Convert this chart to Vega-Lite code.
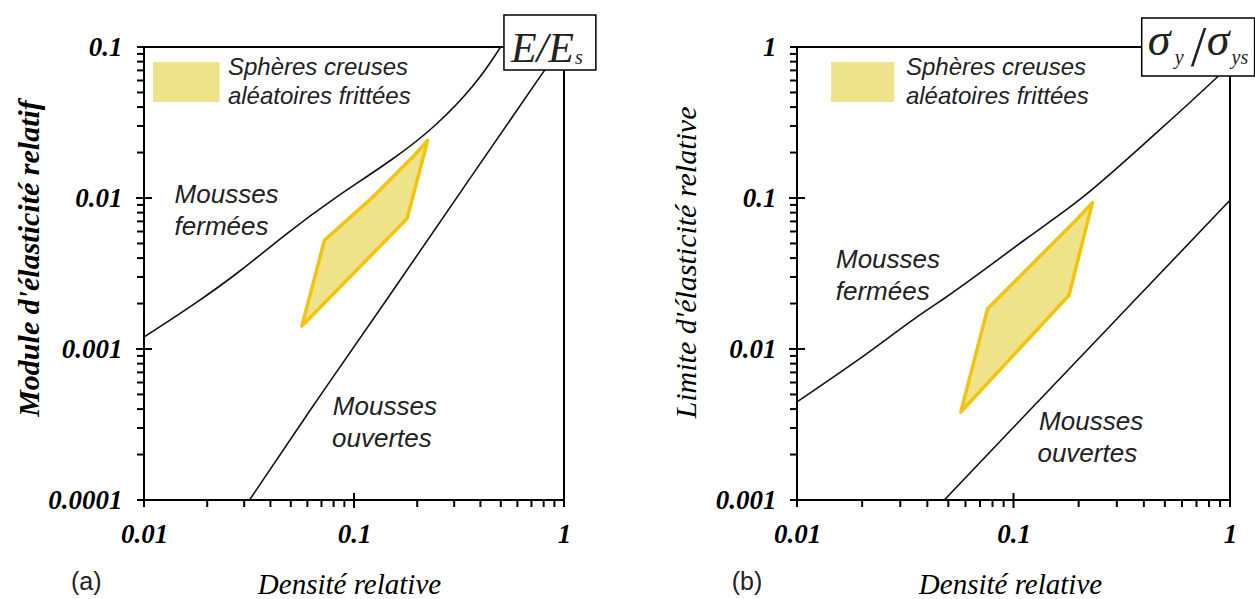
{
  "$schema": "https://vega.github.io/schema/vega-lite/v6.json",
  "background": "white",
  "padding": {"left": 13, "top": 13, "right": 0, "bottom": 0},
  "config": {"view": {"stroke": "#000", "strokeWidth": 2}},
  "spacing": 233,
  "bounds": "flush",
  "datasets": {
    "L_lines": [
      {"curve": "fermees", "i": 0, "x": 0.01, "y": 0.0012},
      {"curve": "fermees", "i": 1, "x": 0.01807, "y": 0.00205},
      {"curve": "fermees", "i": 2, "x": 0.02904, "y": 0.0033},
      {"curve": "fermees", "i": 3, "x": 0.0474, "y": 0.0058},
      {"curve": "fermees", "i": 4, "x": 0.0778, "y": 0.0097},
      {"curve": "fermees", "i": 5, "x": 0.1585, "y": 0.0185},
      {"curve": "fermees", "i": 6, "x": 0.245, "y": 0.0298},
      {"curve": "fermees", "i": 7, "x": 0.378, "y": 0.0558},
      {"curve": "fermees", "i": 8, "x": 0.494, "y": 0.0975},
      {"curve": "fermees", "i": 9, "x": 0.52, "y": 0.11},
      {"curve": "ouvertes", "i": 0, "x": 0.0318, "y": 0.0001},
      {"curve": "ouvertes", "i": 1, "x": 0.0672, "y": 0.00047},
      {"curve": "ouvertes", "i": 2, "x": 0.1345, "y": 0.00186},
      {"curve": "ouvertes", "i": 3, "x": 0.335, "y": 0.0119},
      {"curve": "ouvertes", "i": 4, "x": 0.836, "y": 0.0757},
      {"curve": "ouvertes", "i": 5, "x": 1.0, "y": 0.105}
    ],
    "L_poly": [
      {"i": 0, "x": 0.0565, "y": 0.00142},
      {"i": 1, "x": 0.0723, "y": 0.00525},
      {"i": 2, "x": 0.1206, "y": 0.0099},
      {"i": 3, "x": 0.1938, "y": 0.0192},
      {"i": 4, "x": 0.2244, "y": 0.0241},
      {"i": 5, "x": 0.1789, "y": 0.0073}
    ],
    "L_swatch": [{"x": 0.01104, "x2": 0.0229, "y": 0.0796, "y2": 0.0432}],
    "L_text": [
      {"kind": "legend", "text": "Sphères creuses", "x": 0.0251, "y": 0.0653},
      {"kind": "legend", "text": "aléatoires frittées", "x": 0.0251, "y": 0.0421},
      {"kind": "region", "text": "Mousses", "x": 0.01398, "y": 0.00931},
      {"kind": "region", "text": "fermées", "x": 0.01398, "y": 0.00566},
      {"kind": "region", "text": "Mousses", "x": 0.0793, "y": 0.000367},
      {"kind": "region", "text": "ouvertes", "x": 0.0786, "y": 0.000224},
      {"kind": "tag", "text": "(a)", "x": 0.00531, "y": 0.0000286}
    ],
    "L_box": [{"x": 0.5177, "x2": 1.4183, "y": 0.163, "y2": 0.0704}],
    "L_boxtext": [
      {"kind": "main", "text": "E/E", "x": 0.559, "y": 0.0796},
      {"kind": "sub", "text": "s", "x": 1.127, "y": 0.0772}
    ],
    "LX_ticks": [
      {"v": 0.01, "base": 0.0001, "kind": "out"}, {"v": 0.02, "base": 0.0001, "kind": "out"}, {"v": 0.03, "base": 0.0001, "kind": "out"},
      {"v": 0.04, "base": 0.0001, "kind": "out"}, {"v": 0.05, "base": 0.0001, "kind": "out"}, {"v": 0.06, "base": 0.0001, "kind": "out"},
      {"v": 0.07, "base": 0.0001, "kind": "out"}, {"v": 0.08, "base": 0.0001, "kind": "out"}, {"v": 0.09, "base": 0.0001, "kind": "out"},
      {"v": 0.1, "base": 0.0001, "kind": "cross"}, {"v": 0.2, "base": 0.0001, "kind": "out"}, {"v": 0.3, "base": 0.0001, "kind": "out"},
      {"v": 0.4, "base": 0.0001, "kind": "out"}, {"v": 0.5, "base": 0.0001, "kind": "out"}, {"v": 0.6, "base": 0.0001, "kind": "out"},
      {"v": 0.7, "base": 0.0001, "kind": "out"}, {"v": 0.8, "base": 0.0001, "kind": "out"}, {"v": 0.9, "base": 0.0001, "kind": "out"},
      {"v": 1, "base": 0.0001, "kind": "out"}
    ],
    "RX_ticks": [
      {"v": 0.01, "base": 0.001, "kind": "out"}, {"v": 0.02, "base": 0.001, "kind": "out"}, {"v": 0.03, "base": 0.001, "kind": "out"},
      {"v": 0.04, "base": 0.001, "kind": "out"}, {"v": 0.05, "base": 0.001, "kind": "out"}, {"v": 0.06, "base": 0.001, "kind": "out"},
      {"v": 0.07, "base": 0.001, "kind": "out"}, {"v": 0.08, "base": 0.001, "kind": "out"}, {"v": 0.09, "base": 0.001, "kind": "out"},
      {"v": 0.1, "base": 0.001, "kind": "cross"}, {"v": 0.2, "base": 0.001, "kind": "out"}, {"v": 0.3, "base": 0.001, "kind": "out"},
      {"v": 0.4, "base": 0.001, "kind": "out"}, {"v": 0.5, "base": 0.001, "kind": "out"}, {"v": 0.6, "base": 0.001, "kind": "out"},
      {"v": 0.7, "base": 0.001, "kind": "out"}, {"v": 0.8, "base": 0.001, "kind": "out"}, {"v": 0.9, "base": 0.001, "kind": "out"},
      {"v": 1, "base": 0.001, "kind": "out"}
    ],
    "LY_ticks": [
      {"v": 0.0001, "base": 0.01, "kind": "out"}, {"v": 0.0002, "base": 0.01, "kind": "out"}, {"v": 0.0003, "base": 0.01, "kind": "out"},
      {"v": 0.0004, "base": 0.01, "kind": "out"}, {"v": 0.0005, "base": 0.01, "kind": "out"}, {"v": 0.0006, "base": 0.01, "kind": "out"},
      {"v": 0.0007, "base": 0.01, "kind": "out"}, {"v": 0.0008, "base": 0.01, "kind": "out"}, {"v": 0.0009, "base": 0.01, "kind": "out"},
      {"v": 0.001, "base": 0.01, "kind": "cross"}, {"v": 0.002, "base": 0.01, "kind": "out"}, {"v": 0.003, "base": 0.01, "kind": "out"},
      {"v": 0.004, "base": 0.01, "kind": "out"}, {"v": 0.005, "base": 0.01, "kind": "out"}, {"v": 0.006, "base": 0.01, "kind": "out"},
      {"v": 0.007, "base": 0.01, "kind": "out"}, {"v": 0.008, "base": 0.01, "kind": "out"}, {"v": 0.009, "base": 0.01, "kind": "out"},
      {"v": 0.01, "base": 0.01, "kind": "cross"}, {"v": 0.02, "base": 0.01, "kind": "out"}, {"v": 0.03, "base": 0.01, "kind": "out"},
      {"v": 0.04, "base": 0.01, "kind": "out"}, {"v": 0.05, "base": 0.01, "kind": "out"}, {"v": 0.06, "base": 0.01, "kind": "out"},
      {"v": 0.07, "base": 0.01, "kind": "out"}, {"v": 0.08, "base": 0.01, "kind": "out"}, {"v": 0.09, "base": 0.01, "kind": "out"},
      {"v": 0.1, "base": 0.01, "kind": "out"}
    ],
    "RY_ticks": [
      {"v": 0.001, "base": 0.01, "kind": "out"}, {"v": 0.002, "base": 0.01, "kind": "out"}, {"v": 0.003, "base": 0.01, "kind": "out"},
      {"v": 0.004, "base": 0.01, "kind": "out"}, {"v": 0.005, "base": 0.01, "kind": "out"}, {"v": 0.006, "base": 0.01, "kind": "out"},
      {"v": 0.007, "base": 0.01, "kind": "out"}, {"v": 0.008, "base": 0.01, "kind": "out"}, {"v": 0.009, "base": 0.01, "kind": "out"},
      {"v": 0.01, "base": 0.01, "kind": "cross"}, {"v": 0.02, "base": 0.01, "kind": "out"}, {"v": 0.03, "base": 0.01, "kind": "out"},
      {"v": 0.04, "base": 0.01, "kind": "out"}, {"v": 0.05, "base": 0.01, "kind": "out"}, {"v": 0.06, "base": 0.01, "kind": "out"},
      {"v": 0.07, "base": 0.01, "kind": "out"}, {"v": 0.08, "base": 0.01, "kind": "out"}, {"v": 0.09, "base": 0.01, "kind": "out"},
      {"v": 0.1, "base": 0.01, "kind": "cross"}, {"v": 0.2, "base": 0.01, "kind": "out"}, {"v": 0.3, "base": 0.01, "kind": "out"},
      {"v": 0.4, "base": 0.01, "kind": "out"}, {"v": 0.5, "base": 0.01, "kind": "out"}, {"v": 0.6, "base": 0.01, "kind": "out"},
      {"v": 0.7, "base": 0.01, "kind": "out"}, {"v": 0.8, "base": 0.01, "kind": "out"}, {"v": 0.9, "base": 0.01, "kind": "out"},
      {"v": 1, "base": 0.01, "kind": "out"}
    ],
    "R_lines": [
      {"curve": "fermees", "i": 0, "x": 0.01, "y": 0.00446},
      {"curve": "fermees", "i": 1, "x": 0.019, "y": 0.0084},
      {"curve": "fermees", "i": 2, "x": 0.0387, "y": 0.0176},
      {"curve": "fermees", "i": 3, "x": 0.0478, "y": 0.0216},
      {"curve": "fermees", "i": 4, "x": 0.112, "y": 0.0525},
      {"curve": "fermees", "i": 5, "x": 0.2046, "y": 0.099},
      {"curve": "fermees", "i": 6, "x": 0.462, "y": 0.274},
      {"curve": "fermees", "i": 7, "x": 0.874, "y": 0.633},
      {"curve": "fermees", "i": 8, "x": 1.0, "y": 0.76},
      {"curve": "ouvertes", "i": 0, "x": 0.0479, "y": 0.001},
      {"curve": "ouvertes", "i": 1, "x": 0.1, "y": 0.00303},
      {"curve": "ouvertes", "i": 2, "x": 0.316, "y": 0.0171},
      {"curve": "ouvertes", "i": 3, "x": 1.0, "y": 0.0966}
    ],
    "R_poly": [
      {"i": 0, "x": 0.0571, "y": 0.00383},
      {"i": 1, "x": 0.0759, "y": 0.0185},
      {"i": 2, "x": 0.19, "y": 0.069},
      {"i": 3, "x": 0.2315, "y": 0.0931},
      {"i": 4, "x": 0.1805, "y": 0.0227}
    ],
    "R_swatch": [{"x": 0.01436, "x2": 0.0281, "y": 0.796, "y2": 0.432}],
    "R_text": [
      {"kind": "legend", "text": "Sphères creuses", "x": 0.03185, "y": 0.6495},
      {"kind": "legend", "text": "aléatoires frittées", "x": 0.03185, "y": 0.421},
      {"kind": "region", "text": "Mousses", "x": 0.01514, "y": 0.0344},
      {"kind": "region", "text": "fermées", "x": 0.0151, "y": 0.021},
      {"kind": "region", "text": "Mousses", "x": 0.1313, "y": 0.00291},
      {"kind": "region", "text": "ouvertes", "x": 0.129, "y": 0.00179},
      {"kind": "tag", "text": "(b)", "x": 0.00588, "y": 0.000286}
    ],
    "R_box": [{"x": 0.391, "x2": 1.299, "y": 1.556, "y2": 0.643}],
    "R_boxtext": [
      {"kind": "main", "text": "σ", "x": 0.4166, "y": 0.885},
      {"kind": "sub", "text": "y", "x": 0.555, "y": 0.772},
      {"kind": "slash", "text": "/", "x": 0.716, "y": 0.748},
      {"kind": "main", "text": "σ", "x": 0.78, "y": 0.885},
      {"kind": "sub", "text": "ys", "x": 1.017, "y": 0.772}
    ]
  },
  "hconcat": [
    {
      "width": 420,
      "height": 453,
      "encoding": {
        "x": {"field": "x", "type": "quantitative",
          "scale": {"type": "log", "domain": [0.01, 1], "nice": false},
          "axis": {
            "orient": "bottom",
            "values": [0.01, 0.1, 1],
            "labelExpr": "datum.value == 0.01 ? '0.01' : datum.value == 0.1 ? '0.1' : '1'",
            "ticks": true, "tickSize": 7, "tickOpacity": 0, "domain": false, "grid": false,
            "labelFont": "Liberation Serif", "labelFontStyle": "italic", "labelFontWeight": "bold", "labelFontSize": 27, "labelColor": "#000",
            "labelPadding": 14, "labelOverlap": false, "labelFlush": false, "labelBound": false,
            "title": "Densité relative", "titleFont": "Liberation Serif", "titleFontStyle": "italic", "titleFontWeight": "normal",
            "titleFontSize": 29, "titleColor": "#000", "titleX": 205, "titleY": 93, "titleBaseline": "alphabetic", "titleAlign": "center", "titleAngle": 0
          }
        },
        "y": {"field": "y", "type": "quantitative",
          "scale": {"type": "log", "domain": [0.0001, 0.1], "nice": false},
          "axis": {
            "orient": "left",
            "values": [0.0001, 0.001, 0.01, 0.1],
            "labelExpr": "datum.value == 0.1 ? '0.1' : datum.value == 0.01 ? '0.01' : datum.value == 0.001 ? '0.001' : '0.0001'",
            "ticks": true, "tickSize": 7, "tickOpacity": 0, "domain": false, "grid": false,
            "labelFont": "Liberation Serif", "labelFontStyle": "italic", "labelFontWeight": "bold", "labelFontSize": 27, "labelColor": "#000",
            "labelPadding": 15, "labelOverlap": false, "labelFlush": false, "labelBound": false,
            "title": "Module d'élasticité relatif", "titleFont": "Liberation Serif", "titleFontStyle": "italic", "titleFontWeight": "bold",
            "titleFontSize": 30, "titleColor": "#000", "titleX": -115, "titleY": 211, "titleBaseline": "middle", "titleAlign": "center", "titleAngle": 270
          }
        }
      },
      "layer": [
        {"data": {"name": "L_swatch"}, "mark": {"type": "rect", "fill": "#efe38a", "clip": false},
          "encoding": {"x2": {"field": "x2"}, "y2": {"field": "y2"}}},
        {"data": {"name": "L_poly"}, "mark": {"type": "line", "interpolate": "linear-closed", "fill": "#efe38a", "stroke": "#f2c40f", "strokeWidth": 3.5, "strokeJoin": "round", "clip": false},
          "encoding": {"order": {"field": "i", "type": "quantitative"}}},
        {"data": {"name": "L_lines"}, "mark": {"type": "line", "interpolate": "basis", "stroke": "#111", "strokeWidth": 1.6, "clip": true},
          "encoding": {"detail": {"field": "curve", "type": "nominal"}, "order": {"field": "i", "type": "quantitative"}}},
        {"data": {"name": "L_text"}, "transform": [{"filter": "datum.kind == 'legend'"}],
          "mark": {"type": "text", "font": "Liberation Sans", "fontStyle": "italic", "fontSize": 24, "align": "left", "baseline": "alphabetic", "color": "#222", "clip": false},
          "encoding": {"text": {"field": "text"}}},
        {"data": {"name": "L_text"}, "transform": [{"filter": "datum.kind == 'region'"}],
          "mark": {"type": "text", "font": "Liberation Sans", "fontStyle": "italic", "fontSize": 26, "align": "left", "baseline": "alphabetic", "color": "#222", "clip": false},
          "encoding": {"text": {"field": "text"}}},
        {"data": {"name": "L_text"}, "transform": [{"filter": "datum.kind == 'tag'"}],
          "mark": {"type": "text", "font": "Liberation Sans", "fontSize": 25, "align": "center", "baseline": "middle", "color": "#222", "clip": false},
          "encoding": {"text": {"field": "text"}}},
        {"data": {"name": "LX_ticks"}, "transform": [{"filter": "datum.kind == 'out'"}],
          "mark": {"type": "rect", "color": "#000", "xOffset": -1, "x2Offset": 1, "yOffset": 0, "y2Offset": 7, "clip": false},
          "encoding": {"x": {"field": "v", "type": "quantitative"}, "x2": {"field": "v"}, "y": {"field": "base", "type": "quantitative"}, "y2": {"field": "base"}}},
        {"data": {"name": "LX_ticks"}, "transform": [{"filter": "datum.kind == 'cross'"}],
          "mark": {"type": "rect", "color": "#000", "xOffset": -1, "x2Offset": 1, "yOffset": -7, "y2Offset": 8, "clip": false},
          "encoding": {"x": {"field": "v", "type": "quantitative"}, "x2": {"field": "v"}, "y": {"field": "base", "type": "quantitative"}, "y2": {"field": "base"}}},
        {"data": {"name": "LY_ticks"}, "transform": [{"filter": "datum.kind == 'out'"}],
          "mark": {"type": "rect", "color": "#000", "xOffset": -7, "x2Offset": 0, "yOffset": -1, "y2Offset": 1, "clip": false},
          "encoding": {"y": {"field": "v", "type": "quantitative"}, "y2": {"field": "v"}, "x": {"field": "base", "type": "quantitative"}, "x2": {"field": "base"}}},
        {"data": {"name": "LY_ticks"}, "transform": [{"filter": "datum.kind == 'cross'"}],
          "mark": {"type": "rect", "color": "#000", "xOffset": -8, "x2Offset": 8, "yOffset": -1, "y2Offset": 1, "clip": false},
          "encoding": {"y": {"field": "v", "type": "quantitative"}, "y2": {"field": "v"}, "x": {"field": "base", "type": "quantitative"}, "x2": {"field": "base"}}},
        {"data": {"name": "L_box"}, "mark": {"type": "rect", "fill": "white", "stroke": "#000", "strokeWidth": 1.5, "clip": false},
          "encoding": {"x2": {"field": "x2"}, "y2": {"field": "y2"}}},
        {"data": {"name": "L_boxtext"}, "transform": [{"filter": "datum.kind == 'main'"}],
          "mark": {"type": "text", "font": "Liberation Serif", "fontStyle": "italic", "fontSize": 42, "align": "left", "baseline": "alphabetic", "color": "#222", "clip": false},
          "encoding": {"text": {"field": "text"}}},
        {"data": {"name": "L_boxtext"}, "transform": [{"filter": "datum.kind == 'sub'"}],
          "mark": {"type": "text", "font": "Liberation Serif", "fontStyle": "italic", "fontSize": 20, "align": "left", "baseline": "alphabetic", "color": "#222", "clip": false},
          "encoding": {"text": {"field": "text"}}}
      ]
    },
    {
      "width": 433,
      "height": 453,
      "encoding": {
        "x": {"field": "x", "type": "quantitative",
          "scale": {"type": "log", "domain": [0.01, 1], "nice": false},
          "axis": {
            "orient": "bottom",
            "values": [0.01, 0.1, 1],
            "labelExpr": "datum.value == 0.01 ? '0.01' : datum.value == 0.1 ? '0.1' : '1'",
            "ticks": true, "tickSize": 7, "tickOpacity": 0, "domain": false, "grid": false,
            "labelFont": "Liberation Serif", "labelFontStyle": "italic", "labelFontWeight": "bold", "labelFontSize": 27, "labelColor": "#000",
            "labelPadding": 14, "labelOverlap": false, "labelFlush": false, "labelBound": false,
            "title": "Densité relative", "titleFont": "Liberation Serif", "titleFontStyle": "italic", "titleFontWeight": "normal",
            "titleFontSize": 29, "titleColor": "#000", "titleX": 213, "titleY": 93, "titleBaseline": "alphabetic", "titleAlign": "center", "titleAngle": 0
          }
        },
        "y": {"field": "y", "type": "quantitative",
          "scale": {"type": "log", "domain": [0.001, 1], "nice": false},
          "axis": {
            "orient": "left",
            "values": [0.001, 0.01, 0.1, 1],
            "labelExpr": "datum.value == 1 ? '1' : datum.value == 0.1 ? '0.1' : datum.value == 0.01 ? '0.01' : '0.001'",
            "ticks": true, "tickSize": 7, "tickOpacity": 0, "domain": false, "grid": false,
            "labelFont": "Liberation Serif", "labelFontStyle": "italic", "labelFontWeight": "bold", "labelFontSize": 27, "labelColor": "#000",
            "labelPadding": 14, "labelOverlap": false, "labelFlush": false, "labelBound": false,
            "title": "Limite d'élasticité relative", "titleFont": "Liberation Serif", "titleFontStyle": "italic", "titleFontWeight": "normal",
            "titleFontSize": 30, "titleColor": "#000", "titleX": -111, "titleY": 215, "titleBaseline": "middle", "titleAlign": "center", "titleAngle": 270
          }
        }
      },
      "layer": [
        {"data": {"name": "R_swatch"}, "mark": {"type": "rect", "fill": "#efe38a", "clip": false},
          "encoding": {"x2": {"field": "x2"}, "y2": {"field": "y2"}}},
        {"data": {"name": "R_poly"}, "mark": {"type": "line", "interpolate": "linear-closed", "fill": "#efe38a", "stroke": "#f2c40f", "strokeWidth": 3.5, "strokeJoin": "round", "clip": false},
          "encoding": {"order": {"field": "i", "type": "quantitative"}}},
        {"data": {"name": "R_lines"}, "mark": {"type": "line", "interpolate": "monotone", "stroke": "#111", "strokeWidth": 1.6, "clip": true},
          "encoding": {"detail": {"field": "curve", "type": "nominal"}, "order": {"field": "i", "type": "quantitative"}}},
        {"data": {"name": "R_text"}, "transform": [{"filter": "datum.kind == 'legend'"}],
          "mark": {"type": "text", "font": "Liberation Sans", "fontStyle": "italic", "fontSize": 24, "align": "left", "baseline": "alphabetic", "color": "#222", "clip": false},
          "encoding": {"text": {"field": "text"}}},
        {"data": {"name": "R_text"}, "transform": [{"filter": "datum.kind == 'region'"}],
          "mark": {"type": "text", "font": "Liberation Sans", "fontStyle": "italic", "fontSize": 26, "align": "left", "baseline": "alphabetic", "color": "#222", "clip": false},
          "encoding": {"text": {"field": "text"}}},
        {"data": {"name": "R_text"}, "transform": [{"filter": "datum.kind == 'tag'"}],
          "mark": {"type": "text", "font": "Liberation Sans", "fontSize": 25, "align": "center", "baseline": "middle", "color": "#222", "clip": false},
          "encoding": {"text": {"field": "text"}}},
        {"data": {"name": "RX_ticks"}, "transform": [{"filter": "datum.kind == 'out'"}],
          "mark": {"type": "rect", "color": "#000", "xOffset": -1, "x2Offset": 1, "yOffset": 0, "y2Offset": 7, "clip": false},
          "encoding": {"x": {"field": "v", "type": "quantitative"}, "x2": {"field": "v"}, "y": {"field": "base", "type": "quantitative"}, "y2": {"field": "base"}}},
        {"data": {"name": "RX_ticks"}, "transform": [{"filter": "datum.kind == 'cross'"}],
          "mark": {"type": "rect", "color": "#000", "xOffset": -1, "x2Offset": 1, "yOffset": -7, "y2Offset": 8, "clip": false},
          "encoding": {"x": {"field": "v", "type": "quantitative"}, "x2": {"field": "v"}, "y": {"field": "base", "type": "quantitative"}, "y2": {"field": "base"}}},
        {"data": {"name": "RY_ticks"}, "transform": [{"filter": "datum.kind == 'out'"}],
          "mark": {"type": "rect", "color": "#000", "xOffset": -7, "x2Offset": 0, "yOffset": -1, "y2Offset": 1, "clip": false},
          "encoding": {"y": {"field": "v", "type": "quantitative"}, "y2": {"field": "v"}, "x": {"field": "base", "type": "quantitative"}, "x2": {"field": "base"}}},
        {"data": {"name": "RY_ticks"}, "transform": [{"filter": "datum.kind == 'cross'"}],
          "mark": {"type": "rect", "color": "#000", "xOffset": -8, "x2Offset": 8, "yOffset": -1, "y2Offset": 1, "clip": false},
          "encoding": {"y": {"field": "v", "type": "quantitative"}, "y2": {"field": "v"}, "x": {"field": "base", "type": "quantitative"}, "x2": {"field": "base"}}},
        {"data": {"name": "R_box"}, "mark": {"type": "rect", "fill": "white", "stroke": "#000", "strokeWidth": 1.5, "clip": false},
          "encoding": {"x2": {"field": "x2"}, "y2": {"field": "y2"}}},
        {"data": {"name": "R_boxtext"}, "transform": [{"filter": "datum.kind == 'main'"}],
          "mark": {"type": "text", "font": "Liberation Serif", "fontStyle": "italic", "fontSize": 46, "align": "left", "baseline": "alphabetic", "color": "#222", "clip": false},
          "encoding": {"text": {"field": "text"}}},
        {"data": {"name": "R_boxtext"}, "transform": [{"filter": "datum.kind == 'sub'"}],
          "mark": {"type": "text", "font": "Liberation Serif", "fontStyle": "italic", "fontSize": 20, "align": "left", "baseline": "alphabetic", "color": "#222", "clip": false},
          "encoding": {"text": {"field": "text"}}},
        {"data": {"name": "R_boxtext"}, "transform": [{"filter": "datum.kind == 'slash'"}],
          "mark": {"type": "text", "font": "Liberation Serif", "fontSize": 56, "align": "center", "baseline": "alphabetic", "color": "#222", "clip": false},
          "encoding": {"text": {"field": "text"}}}
      ]
    }
  ]
}
